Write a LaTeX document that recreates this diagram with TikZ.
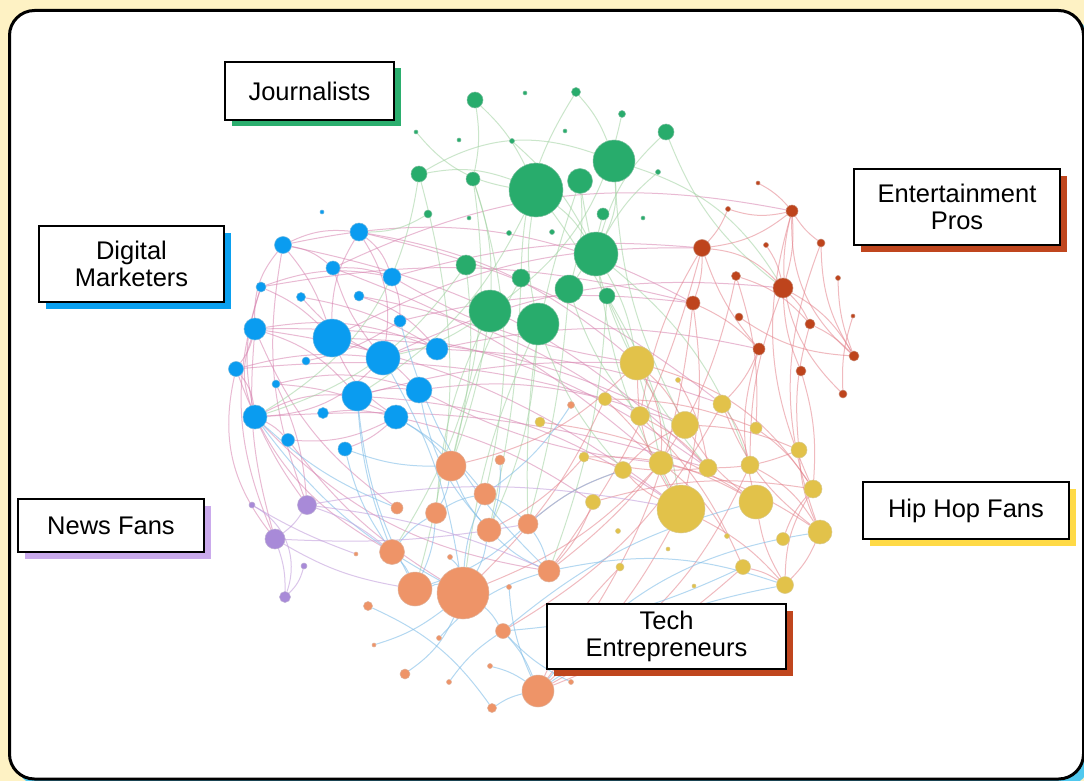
\documentclass[tikz,border=0pt]{standalone}
\usepackage{fontspec}
\setmainfont{Liberation Sans}
\usetikzlibrary{shadows}
\pgfdeclarelayer{framelayer}
\pgfdeclarelayer{edgelayer}
\pgfsetlayers{framelayer,edgelayer,main}
\definecolor{bgyel}{RGB}{254,242,196}
\definecolor{gC}{RGB}{40,172,108}
\definecolor{bC}{RGB}{10,156,240}
\definecolor{eC}{RGB}{190,68,28}
\definecolor{yC}{RGB}{226,194,74}
\definecolor{oC}{RGB}{238,148,104}
\definecolor{pC}{RGB}{168,138,216}
\definecolor{gS}{RGB}{43,174,110}
\definecolor{bS}{RGB}{10,160,240}
\definecolor{eS}{RGB}{192,70,30}
\definecolor{pS}{RGB}{202,170,236}
\definecolor{yS}{RGB}{255,218,70}
\definecolor{cyS}{RGB}{80,200,238}
\definecolor{edR}{RGB}{228,130,140}
\definecolor{edM}{RGB}{215,130,175}
\definecolor{edG}{RGB}{160,210,160}
\definecolor{edB}{RGB}{130,190,232}
\definecolor{edP}{RGB}{195,160,220}
\tikzset{
  dot/.style={circle, inner sep=0pt, line width=0.5pt},
  gn/.style={dot, fill=gC, draw=gC!85!black!60!white},
  bn/.style={dot, fill=bC, draw=bC!85!black!60!white},
  en/.style={dot, fill=eC, draw=eC!85!black!60!white},
  yn/.style={dot, fill=yC, draw=yC!85!black!60!white},
  on/.style={dot, fill=oC, draw=oC!85!black!60!white},
  pn/.style={dot, fill=pC, draw=pC!85!black!60!white},
  edgeR/.style={draw=edR, line width=1pt, opacity=0.55},
  edgeM/.style={draw=edM, line width=1pt, opacity=0.55},
  edgeG/.style={draw=edG, line width=1pt, opacity=0.55},
  edgeB/.style={draw=edB, line width=1pt, opacity=0.6},
  edgeP/.style={draw=edP, line width=1pt, opacity=0.6},
  lab/.style={draw=black, line width=2.6pt, fill=white, align=center, inner sep=0pt,
    font=\fontsize{25.5}{27.5}\selectfont},
  labshadow/.style={drop shadow={shadow xshift=6.5pt, shadow yshift=-6.5pt, fill=#1, opacity=1}}
}
\begin{document}
\begin{tikzpicture}[x=1pt,y=-1pt]
\useasboundingbox (0,0) rectangle (1084,781);
\begin{pgfonlayer}{framelayer}
\fill[bgyel] (0,0) rectangle (1084,781);
\fill[cyS, rounded corners=25pt] (16,17) rectangle (1090,786);
\draw[line width=3pt, fill=white, rounded corners=25pt] (9.5,10.5) rectangle (1083.5,779);
\end{pgfonlayer}

% green cluster
\foreach \n/\x/\y/\r in {g1/475/100/8, g2/525/93/2, g3/576/92/4.5, g4/622/114/3.5, g5/666/132/8,
  g6/416/132/2, g7/459/140/2, g8/512/141/2.5, g9/565/131/2, g10/419/174/8, g11/473/179/7,
  g12/536/190/27, g13/580/181/12.5, g14/614/161/21, g15/658/172/2.5, g16/428/214/4,
  g17/469/218/2, g18/603/214/6, g19/643/218/2, g20/509/233/2.5, g21/552/232/2.5,
  g22/596/254/22, g23/466/265/10, g24/521/278/9, g25/569/289/14, g26/607/296/8,
  g27/490/311/21, g28/538/324/21}
  \node[gn, minimum size=\r*2pt] (\n) at (\x,\y) {};
% blue cluster
\foreach \n/\x/\y/\r in {b1/322/212/2, b2/359/232/9, b3/283/245/8.5, b4/333/268/7, b5/392/277/9,
  b6/261/287/5, b7/301/297/4.5, b8/359/296/5, b9/400/321/6, b10/255/329/11, b11/332/338/19,
  b12/383/358/17, b13/437/349/11, b14/306/361/4, b15/236/369/7.5, b16/276/384/4,
  b17/357/396/15, b18/419/390/13, b19/255/417/12, b20/323/413/5.5, b21/396/417/12,
  b22/288/440/6.5, b23/345/449/7}
  \node[bn, minimum size=\r*2pt] (\n) at (\x,\y) {};
% purple
\foreach \n/\x/\y/\r in {p1/307/505/9.5, p2/275/539/10, p3/285/597/5.5, p4/304/566/3, p5/252/505/3}
  \node[pn, minimum size=\r*2pt] (\n) at (\x,\y) {};
% entertainment
\foreach \n/\x/\y/\r in {e1/758/183/2, e2/728/209/2.5, e3/792/211/6, e4/702/248/8.5, e5/766/245/2.5,
  e6/821/243/4, e7/736/276/4.5, e8/783/288/10, e9/838/278/2.5, e10/693/303/7, e11/739/317/4,
  e12/810/324/5, e13/853/316/2, e14/759/349/6, e15/854/356/5, e16/801/371/5, e17/843/394/4}
  \node[en, minimum size=\r*2pt] (\n) at (\x,\y) {};
% yellow
\foreach \n/\x/\y/\r in {y1/637/363/17, y2/678/380/2.5, y3/605/399/6.5, y4/640/416/9.5,
  y5/685/425/13.5, y6/722/404/9, y7/756/428/6, y8/799/450/8, y9/584/457/5, y10/623/470/8.5,
  y11/661/463/12, y12/708/468/9, y13/750/465/9, y14/813/489/9, y15/593/502/7.5, y16/681/509/24,
  y17/756/502/17, y18/820/532/12, y19/618/531/2.5, y20/727/536/2.5, y21/783/539/6.5,
  y22/668/549/2, y23/620/567/4, y24/743/567/7.5, y25/694/586/2, y26/785/585/8.5, y27/540/422/5}
  \node[yn, minimum size=\r*2pt] (\n) at (\x,\y) {};
% orange
\foreach \n/\x/\y/\r in {o1/451/466/15, o2/500/460/5, o3/485/494/11, o4/397/508/6, o5/436/513/10.5,
  o6/489/530/12, o7/528/524/10, o8/392/552/12.5, o9/356/554/2, o10/450/557/2.5, o11/549/571/11,
  o12/415/589/17, o13/463/593/26, o14/509/587/2.5, o15/368/606/4.5, o16/503/631/7.5,
  o17/439/638/2.5, o18/374/645/2, o19/490/666/2.5, o20/405/674/5, o21/449/682/2.5,
  o22/538/691/16, o23/571/682/2.5, o24/492/708/4.5, o25/571/405/3.5}
  \node[on, minimum size=\r*2pt] (\n) at (\x,\y) {};

\begin{pgfonlayer}{edgelayer}
% blue cluster (magenta)
\foreach \a/\b/\c in {b3/b4/15, b3/b10/-20, b3/b11/10, b2/b5/15, b2/b12/20, b2/b11/-15, b4/b5/10,
  b4/b12/-10, b6/b5/15, b6/b19/-15, b7/b13/10, b10/b19/-20, b10/b15/10, b15/b19/15, b11/b18/15,
  b11/b21/-15, b12/b13/10, b12/b19/20, b17/b18/10, b17/b10/-15, b16/b18/15, b19/b22/10,
  b20/b21/10, b14/b9/-10, b8/b13/15, b5/b9/10, b21/b23/10, b19/b17/15, b22/b21/-15,
  b15/b12/10, b3/b2/15, b6/b11/10, b10/b13/15, b7/b12/-10, b16/b21/10,
  b5/e4/10, b5/y1/-10, b11/y5/12, b12/e8/15, b13/y6/8, b9/e10/10, b18/y11/-10, b10/y12/18,
  b17/y16/15, b19/o11/-18, b21/y15/10, b4/e3/18, b3/e10/20, b15/o8/-20, b2/y1/15, b13/e14/12,
  b18/y3/10, b10/o4/-15, b8/y4/12, b2/y6/12, b4/y11/10, b11/e4/14, b3/y12/16, b6/e10/12,
  b10/y16/14, b15/y5/12, b19/y12/10, b22/o13/-10, b17/y1/8, b3/p1/-15, b6/p2/-20, b10/p2/-10,
  b16/p1/10, b15/p2/-25, b19/p1/-5}
  \draw[edgeM] (\a) to[bend left=\c] (\b);
% green edges
\foreach \a/\b/\c in {g10/g12/15, g10/g14/25, g11/g27/10, g12/g22/10, g12/g28/-10, g13/g25/10,
  g14/g22/15, g5/g22/-15, g4/g27/20, g1/g12/10, g23/o1/10, g27/o5/-10, g28/o6/10, g22/y1/10,
  g25/y4/-10, g11/o3/15, g24/o1/-8, g14/e8/20, g5/e8/-15, g26/y16/10, g3/g24/-15, g16/b2/15,
  g10/b19/25, g12/y11/12, g22/y13/15, g13/o7/-10, g8/g22/10, g10/o12/15, g3/g14/10,
  g15/g22/-10, g1/g11/10, g6/g12/-20, g27/o1/5, g28/o13/-8, g18/g25/10, g24/o6/5, g11/o8/20,
  g12/b17/15, g27/b12/10, g23/b19/18, g14/y5/-12, g22/y16/-10, g13/y12/-15, g26/o11/8,
  g28/y10/-10, g25/o7/5}
  \draw[edgeG] (\a) to[bend left=\c] (\b);
% red edges
\foreach \a/\b/\c in {e3/e8/10, e3/e15/-25, e3/e4/15, e4/e14/-10, e4/e10/10, e8/e15/15,
  e8/e16/-10, e12/e15/10, e11/e15/-15, e7/e12/15, e6/e15/-15, e10/y16/10, e4/y4/-10, e14/y6/10,
  e1/e3/10, e2/e3/-15, e10/o22/15, e4/o11/10, e14/y17/-15, e16/y14/10, e3/e17/-30, e4/e8/20,
  e10/e14/10, e8/y13/-10, e2/e4/10, e8/e12/10, e6/e3/10, e9/e15/-10, e13/e17/-10, e3/y14/-20,
  e6/y18/-20, e5/e8/10, e12/y8/-10, e7/y7/10,
  y1/y5/10, y1/y11/15, y4/y12/10, y5/y17/-10, y6/y13/10, y3/y16/10, y9/y17/15, y10/y16/-10,
  y11/y18/10, y12/y8/-10, y15/y14/12, y16/y26/10, y17/y26/-10, y13/y18/15, y21/y14/10,
  y24/y26/10, y10/y5/10, y3/y7/10, y27/y17/12, y9/y12/-10, y5/y8/10, y1/y14/20, y6/y18/-15,
  y4/y24/10, y1/y16/-15, y11/y20/10, y14/y26/-15, y18/y26/10, y8/y18/-10, y2/y12/10, y7/y14/10,
  y9/o6/10, y10/o7/-10, y15/o11/10, y1/o1/15, y16/o22/10, y23/o22/-10, y24/o22/10,
  y11/o13/12, y6/o16/15, e7/o11/20, y13/o22/18, y3/o13/10}
  \draw[edgeR] (\a) to[bend left=\c] (\b);
% orange cluster (blue edges)
\foreach \a/\b/\c in {o1/o5/10, o1/o6/-10, o3/o7/10, o5/o12/10, o5/o8/-10, o6/o13/10, o8/o12/10,
  o12/o13/15, o13/o16/10, o6/o11/-10, o7/o11/10, o3/o13/-10, o16/o22/10, o14/o22/-10,
  o15/o24/15, o19/o22/10, o12/b17/10, o1/b21/-10, o4/b19/10, o6/b18/15, o13/b12/-10,
  o11/b9/15, o22/y18/20, o21/o16/10, o20/o13/-15, o7/y10/10, o25/o3/10, o8/b23/10,
  o17/o11/15, o12/o7/-12, o18/o13/-10, o5/o3/10, o2/o6/10, o24/o22/10, o11/y26/15, o16/y17/12,
  o13/b19/12, o8/b17/8, o3/b21/-10, o22/y26/12, o16/y24/-10, o1/b23/10, o23/o16/10, o10/o13/10}
  \draw[edgeB] (\a) to[bend left=\c] (\b);
% purple edges
\foreach \a/\b/\c in {p1/p2/10, p2/p3/10, p1/o8/10, p4/p3/15, p5/p3/40, p5/o9/-5,
  p1/o11/8, p1/y16/10, p2/o12/-10, p2/o7/-6}
  \draw[edgeP] (\a) to[bend left=\c] (\b);
\end{pgfonlayer}

% labels
\node[lab, labshadow=gS, minimum width=169pt, minimum height=58pt] (lJ) at (309.5,91) {Journalists};
\node[lab, labshadow=bS, minimum width=185pt, minimum height=76pt] (lD) at (131.5,264) {Digital\\Marketers};
\node[lab, labshadow=eS, minimum width=206pt, minimum height=76pt] (lE) at (957,207) {Entertainment\\Pros};
\node[lab, labshadow=pS, minimum width=186pt, minimum height=53pt] (lN) at (111,525.5) {News Fans};
\node[lab, labshadow=eS, minimum width=239pt, minimum height=65pt] (lT) at (666.5,636.5) {Tech\\Entrepreneurs};
\node[lab, labshadow=yS, minimum width=206pt, minimum height=57pt] (lH) at (966,510.5) {Hip Hop Fans};
\end{tikzpicture}
\end{document}
